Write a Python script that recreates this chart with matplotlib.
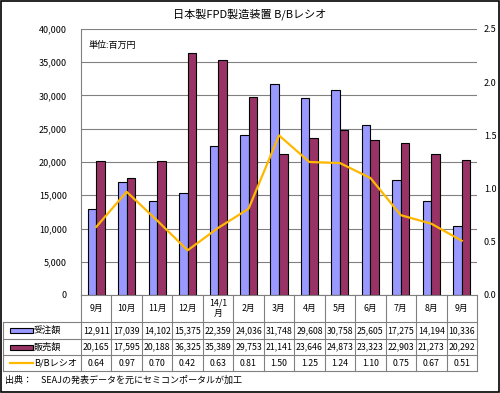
import matplotlib
matplotlib.use("Agg")
import matplotlib.pyplot as plt
import numpy as np
from matplotlib.patches import Rectangle

plt.rcParams['font.family'] = ['Noto Sans CJK JP', 'DejaVu Sans']

months = ["9月", "10月", "11月", "12月", "14/1\n月", "2月", "3月", "4月", "5月", "6月", "7月", "8月", "9月"]
orders = [12911, 17039, 14102, 15375, 22359, 24036, 31748, 29608, 30758, 25605, 17275, 14194, 10336]
sales = [20165, 17595, 20188, 36325, 35389, 29753, 21141, 23646, 24873, 23323, 22903, 21273, 20292]
bb = [0.64, 0.97, 0.70, 0.42, 0.63, 0.81, 1.50, 1.25, 1.24, 1.10, 0.75, 0.67, 0.51]
series_names = ["受注額", "販売額", "B/Bレシオ"]
title = "日本製FPD製造装置 B/Bレシオ"

W, H = 500, 393
fig = plt.figure(figsize=(W / 100, H / 100), dpi=100)

L, R, T, B = 81, 477, 29, 295
ax = fig.add_axes([L / W, 1 - B / H, (R - L) / W, (B - T) / H])
n = len(months)
x = np.arange(n)
bw = 0.28
blue = "#9999FF"
maroon = "#993366"
ax.bar(x - bw / 2, orders, width=bw, color=blue, edgecolor="black", linewidth=0.8, zorder=3)
ax.bar(x + bw / 2, sales, width=bw, color=maroon, edgecolor="black", linewidth=0.8, zorder=3)
ax.set_xlim(-0.5, n - 0.5)
ax.set_ylim(0, 40000)
ax.set_yticks(np.arange(0, 40001, 5000))
ax.set_yticklabels([f"{v:,}" for v in range(0, 40001, 5000)], fontsize=6.5)
ax.yaxis.grid(True, color="#808080", linewidth=0.8, zorder=0)
ax.set_xticks([])
ax.tick_params(axis="y", length=0, pad=10)
for s in ["top", "right", "bottom"]:
    ax.spines[s].set_visible(False)
ax.spines["left"].set_color("#808080")
ax.text(0.02, 0.955, "単位:百万円", transform=ax.transAxes, fontsize=6.5, va="top", ha="left")

ax2 = ax.twinx()
ax2.plot(x, bb, color="#FFB800", linewidth=1.6, zorder=4)
ax2.set_ylim(0, 2.5)
ax2.set_yticks(np.arange(0, 2.51, 0.5))
ax2.set_yticklabels([f"{v:.1f}" for v in np.arange(0, 2.51, 0.5)], fontsize=6.5)
ax2.tick_params(axis="y", length=0, pad=5)
for s in ["top", "right", "bottom", "left"]:
    ax2.spines[s].set_visible(False)

fig.text(0.5, 1 - 14 / H, title, ha="center", va="center", fontsize=8)

# overlay for table
ov = fig.add_axes([0, 0, 1, 1])
ov.set_xlim(0, W)
ov.set_ylim(H, 0)
ov.axis("off")
ov.patch.set_alpha(0)

gc = "#808080"
cw = (R - L) / n
rows_y = [322, 339, 355, 371]
ov.plot([L, R], [B, B], color=gc, lw=0.8)
for yy in rows_y:
    ov.plot([3, R], [yy, yy], color=gc, lw=0.8)
for i in range(n + 1):
    xx = L + i * cw
    ov.plot([xx, xx], [B, rows_y[-1]], color=gc, lw=0.8)
ov.plot([3, 3], [rows_y[0], rows_y[-1]], color=gc, lw=0.8)

fs = 6.3
for i in range(n):
    cx = L + (i + 0.5) * cw
    ov.text(cx, (B + rows_y[0]) / 2, months[i], ha="center", va="center", fontsize=fs, linespacing=1.2)
    ov.text(cx, (rows_y[0] + rows_y[1]) / 2, f"{orders[i]:,}", ha="center", va="center", fontsize=fs)
    ov.text(cx, (rows_y[1] + rows_y[2]) / 2, f"{sales[i]:,}", ha="center", va="center", fontsize=fs)
    ov.text(cx, (rows_y[2] + rows_y[3]) / 2, f"{bb[i]:.2f}", ha="center", va="center", fontsize=fs)

for k, (c, name) in enumerate(zip([blue, maroon], series_names[:2])):
    yc = (rows_y[k] + rows_y[k + 1]) / 2
    ov.add_patch(Rectangle((10, yc - 2.5), 23, 5, facecolor=c, edgecolor="black", lw=0.8))
    ov.text(34, yc, name, ha="left", va="center", fontsize=fs + 0.3)
yc = (rows_y[2] + rows_y[3]) / 2
ov.plot([10, 33], [yc, yc], color="#FFB800", lw=1.6)
ov.text(34, yc, series_names[2], ha="left", va="center", fontsize=fs + 0.3)

ov.text(5, 380, "出典：　SEAJの発表データを元にセミコンポータルが加工", ha="left", va="center", fontsize=6.5)

ov.add_patch(Rectangle((0.5, 0.5), W - 1.5, H - 1.5, fill=False, edgecolor="black", lw=1.2))

fig.savefig("out.png", dpi=100)
